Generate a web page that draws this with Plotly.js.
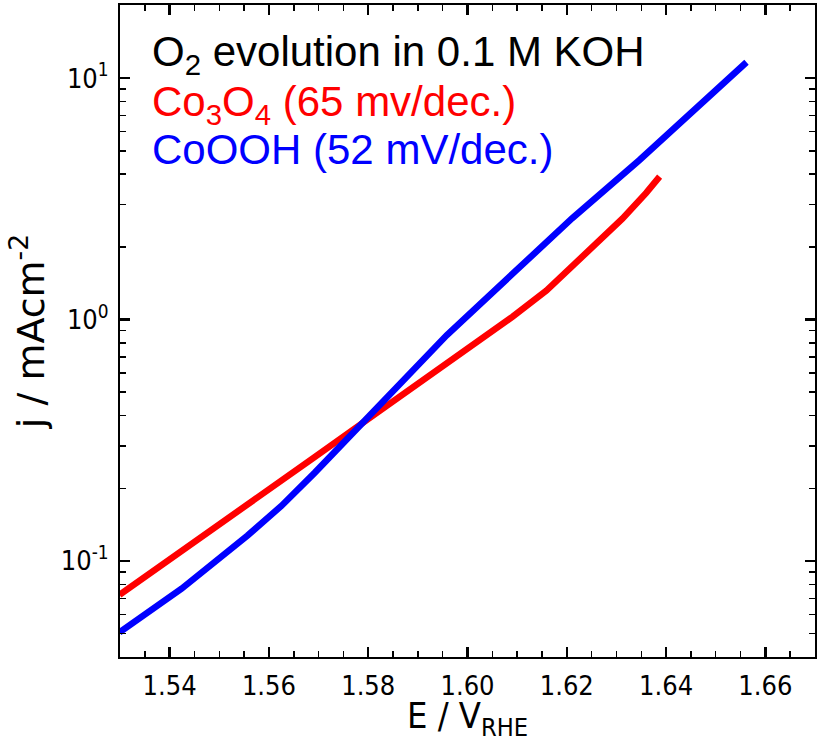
<!DOCTYPE html>
<html>
<head>
<meta charset="utf-8">
<script src="https://cdn.plot.ly/plotly-3.0.1.min.js"></script>
<style>html,body{margin:0;padding:0;background:#fff;}#chart{width:821px;height:742px;}</style>
</head>
<body>
<div id="chart"></div>
<script>
// Co3O4 (red)
const E_co3o4 = [1.5299, 1.5424, 1.5557, 1.5692, 1.5823, 1.5958, 1.6091, 1.6159, 1.6225, 1.6268, 1.6312, 1.6360, 1.6387];
const j_co3o4 = [0.0724, 0.1096, 0.1698, 0.2692, 0.4188, 0.6577, 1.0280, 1.3180, 1.7580, 2.1280, 2.6180, 3.3500, 3.9080];
// CoOOH (blue)
const E_cooh = [1.5299, 1.5424, 1.5557, 1.5625, 1.5692, 1.5823, 1.5958, 1.6091, 1.6211, 1.6346, 1.6401, 1.6447, 1.6562];
const j_cooh = [0.0506, 0.0767, 0.1274, 0.1690, 0.2317, 0.4467, 0.8610, 1.5490, 2.6300, 4.5710, 5.8210, 6.9980, 11.640];
// tick labels
const yTickVals = [0.1, 1, 10];
const yTickText = ['10<sup>-1</sup>', '10<sup>0</sup>', '10<sup>1</sup>'];
const yMinorVals = [0.04, 0.05, 0.06, 0.07, 0.08, 0.09, 0.2, 0.3, 0.4, 0.5, 0.6, 0.7, 0.8, 0.9, 2, 3, 4, 5, 6, 7, 8, 9, 20];
const xTickVals = [1.54, 1.56, 1.58, 1.60, 1.62, 1.64, 1.66];
const xTickText = ['1.54', '1.56', '1.58', '1.60', '1.62', '1.64', '1.66'];
const legendLines = ['O<sub>2</sub> evolution in 0.1 M KOH', 'Co<sub>3</sub>O<sub>4</sub> (65 mv/dec.)', 'CoOOH (52 mV/dec.)'];
const legendColors = ['#000000', '#ff0000', '#0000ff'];

const tickFont = {family: 'DejaVu Sans Condensed, DejaVu Sans, sans-serif', size: 27, color: '#000'};
const xTitleFont = {family: 'DejaVu Sans Condensed, DejaVu Sans, sans-serif', size: 36, color: '#000'};
const yTitleFont = {family: 'DejaVu Sans, sans-serif', size: 38, color: '#000'};

const traces = [
  {x: E_co3o4, y: j_co3o4, type: 'scatter', mode: 'lines', line: {color: '#ff0000', width: 6.5}, name: 'Co3O4'},
  {x: E_cooh, y: j_cooh, type: 'scatter', mode: 'lines', line: {color: '#0000ff', width: 6.5}, name: 'CoOOH'}
];

const legendY = [0.924, 0.847, 0.779];
const annotations = legendLines.map((t, i) => ({
  text: t, xref: 'paper', yref: 'paper', x: 0.043, y: legendY[i],
  xanchor: 'left', yanchor: 'middle', showarrow: false,
  font: {family: 'Liberation Sans, Arial, sans-serif', size: 42, color: legendColors[i]}
}));

const layout = {
  width: 821, height: 742,
  margin: {l: 120, r: 6, t: 5, b: 85},
  paper_bgcolor: '#fff', plot_bgcolor: '#fff',
  showlegend: false,
  xaxis: {
    range: [1.53, 1.67], showgrid: false, zeroline: false,
    showline: true, linecolor: '#000', linewidth: 2, mirror: 'ticks',
    ticks: 'inside', ticklen: 10, tickwidth: 2.5, tickcolor: '#000',
    tickmode: 'array', tickvals: xTickVals, ticktext: xTickText,
    tickfont: tickFont, ticklabelstandoff: 4,
    minor: {dtick: 0.005, tick0: 1.53, ticks: 'inside', ticklen: 6, tickwidth: 1.5, tickcolor: '#000', showgrid: false},
    title: {text: 'E / V<sub>RHE</sub>', font: xTitleFont, standoff: 10}
  },
  yaxis: {
    type: 'log', range: [Math.log10(0.04), Math.log10(20.1)], showgrid: false, zeroline: false,
    showline: true, linecolor: '#000', linewidth: 2, mirror: 'ticks',
    ticks: 'inside', ticklen: 10, tickwidth: 2.5, tickcolor: '#000',
    tickmode: 'array', tickvals: yTickVals, ticktext: yTickText,
    tickfont: tickFont, ticklabelstandoff: 4,
    minor: {tickmode: 'array', tickvals: yMinorVals, ticks: 'inside', ticklen: 6, tickwidth: 1.5, tickcolor: '#000', showgrid: false},
    title: {text: 'j / mAcm<sup>-2</sup>', font: yTitleFont, standoff: 4}
  },
  annotations: annotations
};

Plotly.newPlot('chart', traces, layout, {displayModeBar: false, staticPlot: true});
</script>
</body>
</html>
